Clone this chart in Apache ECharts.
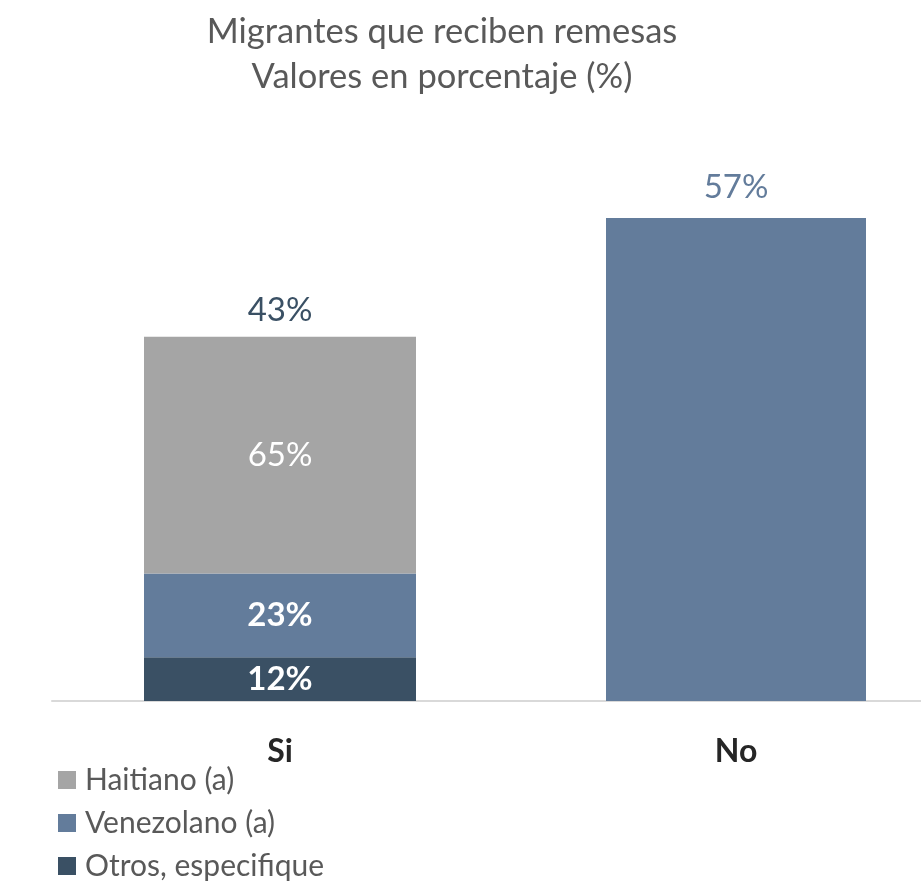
<!DOCTYPE html>
<html>
<head>
<meta charset="utf-8">
<title>Migrantes que reciben remesas</title>
<script src="https://cdn.jsdelivr.net/npm/echarts@6/dist/echarts.min.js"></script>
<style>
  html, body { margin: 0; padding: 0; background: #ffffff; }
  #chart { width: 921px; height: 882px; }
</style>
</head>
<body>
<div id="chart"></div>
<script>
// Categories on the x axis
const categories = ['Si', 'No'];

// Share of migrants who receive remittances (%)
const siTotal = 43;
const noTotal = 57;

// Nationality breakdown of the "Si" group (% of that group)
const nationalities = ['Haitiano (a)', 'Venezolano (a)', 'Otros, especifique'];
const siShares = { 'Haitiano (a)': 65, 'Venezolano (a)': 23, 'Otros, especifique': 12 };

const colors = {
  'Haitiano (a)': '#a5a5a5',
  'Venezolano (a)': '#637c9b',
  'Otros, especifique': '#3a5064'
};

const FONT = 'Lato, "Open Sans", sans-serif';

// Segment height = share of the group x group total
function segmentValue(name) {
  return siShares[name] * siTotal / 100;
}

const stackOrder = ['Otros, especifique', 'Venezolano (a)', 'Haitiano (a)'];
const segmentLabelWeight = {
  'Otros, especifique': 'bold',
  'Venezolano (a)': 'bold',
  'Haitiano (a)': 'normal'
};

const siSeries = stackOrder.map(name => ({
  name: name,
  type: 'bar',
  stack: 'si',
  xAxisIndex: 0,
  barWidth: 272,
  data: [{ value: segmentValue(name), share: siShares[name] }, '-'],
  itemStyle: { color: colors[name] },
  label: {
    show: true,
    position: 'inside',
    color: '#ffffff',
    fontFamily: FONT,
    fontSize: 33,
    fontWeight: segmentLabelWeight[name],
    formatter: p => p.data.share + '%'
  }
}));

// Zero-height cap on the "Si" stack carrying the group total
const siTotalSeries = {
  name: 'siTotal',
  type: 'bar',
  stack: 'si',
  xAxisIndex: 0,
  barWidth: 272,
  data: [0, '-'],
  itemStyle: { color: 'transparent' },
  label: {
    show: true,
    position: 'top',
    distance: 10,
    color: '#3a5064',
    fontFamily: FONT,
    fontSize: 33,
    formatter: () => siTotal + '%'
  }
};

const noSeries = {
  name: 'No',
  type: 'bar',
  xAxisIndex: 1,
  barWidth: 260,
  data: ['-', noTotal],
  itemStyle: { color: '#637c9b' },
  label: {
    show: true,
    position: 'top',
    distance: 14,
    color: '#637c9b',
    fontFamily: FONT,
    fontSize: 33,
    formatter: p => p.value + '%'
  }
};

const chart = echarts.init(document.getElementById('chart'), null, { renderer: 'canvas' });

chart.setOption({
  animation: false,
  backgroundColor: '#ffffff',
  title: {
    text: 'Migrantes que reciben remesas\nValores en porcentaje (%)',
    left: 437,
    top: 4,
    textAlign: 'center',
    textStyle: {
      fontFamily: FONT,
      fontSize: 34.5,
      fontWeight: 'normal',
      color: '#595959',
      lineHeight: 45
    }
  },
  legend: {
    data: nationalities,
    orient: 'vertical',
    left: 58,
    bottom: 1,
    padding: 0,
    itemWidth: 18,
    itemHeight: 18,
    itemGap: 13,
    icon: 'rect',
    textStyle: {
      fontFamily: FONT,
      fontSize: 30,
      color: '#595959',
      lineHeight: 28,
      padding: [0, 0, 0, 4]
    }
  },
  grid: {
    left: 52,
    width: 912,
    top: 192.6,
    bottom: 181,
    containLabel: false,
    outerBoundsMode: 'none'
  },
  xAxis: [
    {
      type: 'category',
      data: categories,
      axisLine: { show: true, lineStyle: { color: '#d9d9d9', width: 2 } },
      axisTick: { show: false },
      axisLabel: {
        margin: 35,
        fontFamily: FONT,
        fontSize: 32,
        fontWeight: 'bold',
        color: '#262626'
      }
    },
    {
      type: 'category',
      data: categories,
      show: false
    }
  ],
  yAxis: {
    type: 'value',
    min: 0,
    max: 60,
    show: false,
    splitLine: { show: false }
  },
  series: [...siSeries, siTotalSeries, noSeries]
});
</script>
</body>
</html>
